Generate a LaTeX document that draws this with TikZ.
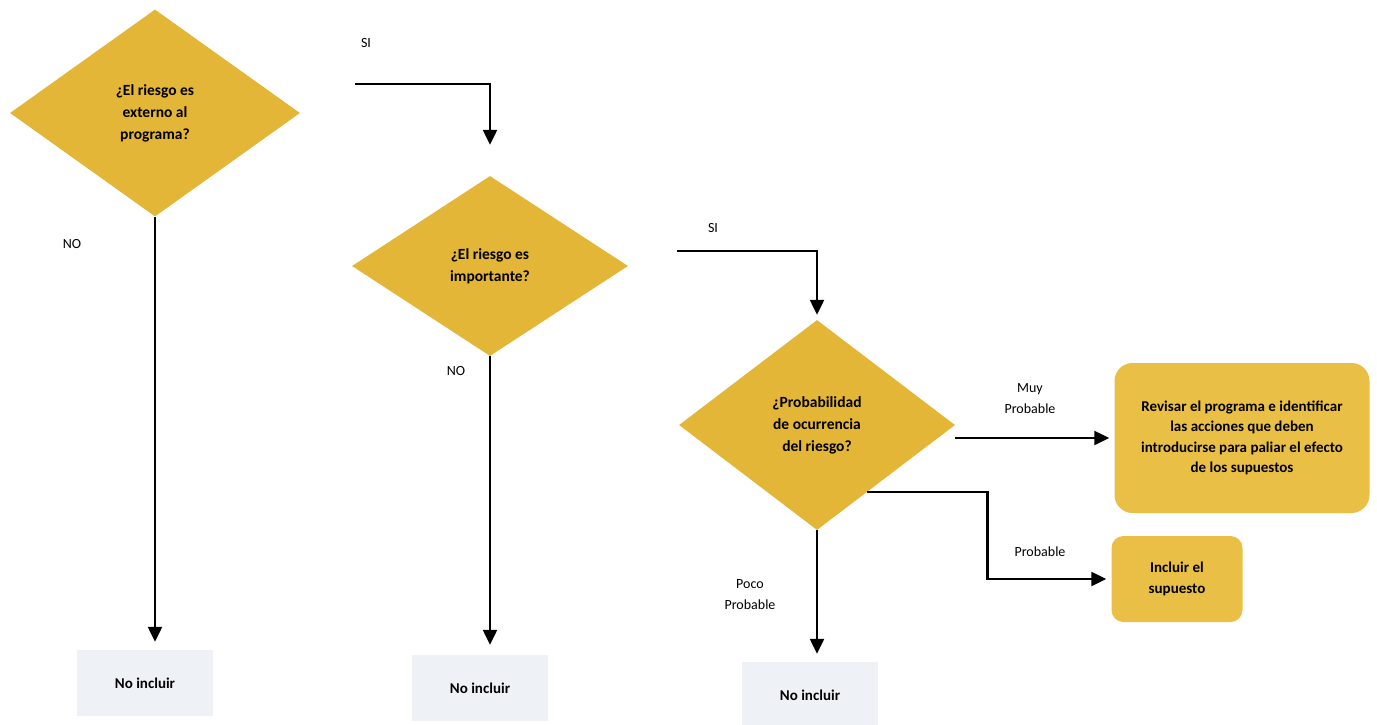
\documentclass[tikz,border=0pt]{standalone}
\usepackage{fontspec}
\setmainfont{Carlito}
\usepackage{tikz}
\usetikzlibrary{arrows.meta,shapes.geometric,positioning,calc}
\definecolor{gold}{RGB}{228,182,56}
\definecolor{goldbox}{RGB}{233,191,70}
\definecolor{pale}{RGB}{238,241,245}
\tikzset{
    flow/.style={-{Triangle[length=15pt, width=14pt]}, line width=2.3pt, black},
    decision/.style={diamond, fill=gold, inner sep=0pt, align=center, font=\fontsize{15.5}{22}\selectfont\bfseries},
    action/.style={rectangle, rounded corners=18pt, fill=goldbox, align=center, font=\fontsize{15}{20.5}\selectfont\bfseries},
    endbox/.style={rectangle, fill=pale, minimum width=136pt, minimum height=66pt, font=\fontsize{15}{20}\selectfont\bfseries},
    lbl/.style={align=center, font=\fontsize{14}{21}\selectfont}
}

\begin{document}
\begin{tikzpicture}[x=1pt, y=-1pt]
                    \useasboundingbox (0,0) rectangle (1377,724);
                    \node[decision, minimum width=290pt, minimum height=207pt] (d1) at (155,113) {¿El riesgo es\\externo al\\programa?};
                    \node[decision, minimum width=276pt, minimum height=180pt] (d2) at (490,266) {¿El riesgo es\\importante?};
                    \node[decision, minimum width=276pt, minimum height=210pt] (d3) at (817,425) {¿Probabilidad\\de ocurrencia\\del riesgo?};
                    \node[action, minimum width=255pt, minimum height=150pt] (revisar) at (1242,438) {Revisar el programa e identificar\\las acciones que deben\\introducirse para paliar el efecto\\de los supuestos};
                    \node[action, rounded corners=12pt, minimum width=131pt, minimum height=86pt] (incluir) at (1177,579) {Incluir el\\supuesto};
                    \node[endbox] (n1) at (145,683) {No incluir};
                    \node[endbox] (n2) at (480,688) {No incluir};
                    \node[endbox] (n3) at (810,695) {No incluir};
                    \coordinate (s1) at (355,84);
                    \coordinate (s2) at (677,251);
                    
                    \draw[flow, shorten >=8pt] (d1.south) -- (d1.south |- n1.north);
                    \draw[flow, shorten >=31pt] (s1) -| (d2.north);
                    \draw[flow, shorten >=10pt] (d2.south) -- (d2.south |- n2.north);
                    \draw[flow, shorten >=5pt] (s2) -| (d3.north);
                    \draw[flow, shorten >=5pt] (d3.east |- revisar.west) -- (revisar.west);
                    \draw[flow, shorten >=5pt] (d3.-53) -- ++(120,0) |- (incluir.west);
                    \draw[flow, shorten >=8pt] (d3.south) -- (d3.south |- n3.north);
                    
                    \node[lbl] at (366,43) {SI};
                    \node[lbl] at (72,244) {NO};
                    \node[lbl] at (456,371) {NO};
                    \node[lbl] at (713,228) {SI};
                    \node[lbl] at (1030,399) {Muy\\Probable};
                    \node[lbl] at (1040,552) {Probable};
                    \node[lbl] at (750,595) {Poco\\Probable};
                \end{tikzpicture}
\end{document}
